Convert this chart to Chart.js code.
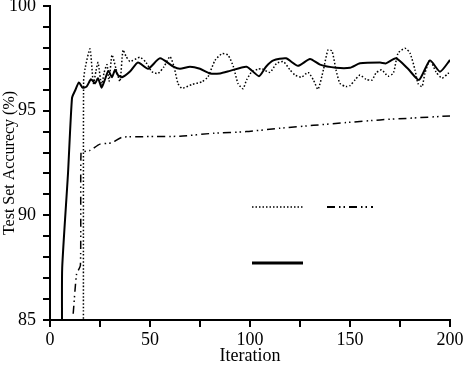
<!DOCTYPE html>
<html>
<head>
<meta charset="utf-8">
<script src="https://cdn.jsdelivr.net/npm/chart.js@4/dist/chart.umd.min.js"></script>
<style>
  body { margin: 0; background: #fff; }
  canvas { display: block; }
</style>
</head>
<body>
<canvas id="acc-chart" width="463" height="367"></canvas>
<script>
// solid line
var solidX = [6, 6.1, 9, 11, 12.5, 14.5, 16.3, 18.3, 20.5, 22.5, 24, 25.8, 27.5, 29.2, 31, 32.5, 34, 36, 40, 44, 49, 55, 61.7, 65, 70, 75, 80, 85, 90, 98.3, 104.5, 108, 111.7, 118, 124, 130, 135, 143, 150, 155, 165, 168, 173, 179, 184.5, 190, 195, 200];
var solidY = [84.9, 87.5, 92, 95.6, 95.95, 96.35, 96.1, 96.15, 96.5, 96.3, 96.55, 96.1, 96.5, 96.9, 96.6, 96.95, 96.7, 96.6, 96.87, 97.3, 97.0, 97.5, 97.1, 97.0, 97.1, 97.0, 96.78, 96.78, 96.9, 97.1, 96.65, 97.1, 97.4, 97.5, 97.14, 97.47, 97.2, 97.05, 97.05, 97.26, 97.3, 97.26, 97.5, 97.0, 96.47, 97.4, 96.86, 97.42];

// dotted line
var dotX = [16.7, 16.8, 17.5, 20, 21.7, 23, 24, 25.8, 27, 28.5, 29.5, 31, 33, 35, 36.5, 38, 40, 45, 48, 51, 54, 57, 60, 62, 64, 66, 71, 76, 79, 82.5, 86, 89, 91.7, 94, 96.5, 98.3, 101, 104, 106, 110, 113.3, 116.7, 120, 122.5, 125.8, 129, 131.7, 134, 136.7, 139, 141, 143, 145, 148, 150, 152.5, 155, 158, 161, 163, 165.8, 169, 171.7, 174, 177.5, 180, 182.5, 184, 186, 187.5, 190, 193, 196, 199, 200];
var dotY = [84.9, 96.4, 97.0, 97.95, 96.3, 96.9, 97.3, 96.2, 96.8, 97.2, 96.4, 97.66, 97.0, 96.4, 97.9, 97.6, 97.35, 97.55, 97.3, 96.86, 96.78, 97.1, 97.58, 97.1, 96.3, 96.07, 96.25, 96.38, 96.62, 97.4, 97.72, 97.66, 97.1, 96.3, 96.05, 96.47, 96.87, 96.98, 97.0, 96.83, 97.26, 97.34, 96.95, 96.7, 96.6, 96.83, 96.47, 96.02, 96.95, 97.9, 97.85, 96.95, 96.3, 96.15, 96.2, 96.47, 96.7, 96.5, 96.46, 96.8, 96.95, 96.65, 96.8, 97.74, 97.98, 97.75, 96.95, 96.3, 96.15, 96.8, 97.42, 96.85, 96.55, 96.78, 96.85];

// dash-dot line
var dashX = [11.6, 13.3, 15.2, 15.5, 17, 20, 25, 30.7, 36, 48, 65, 81.7, 98, 115, 131.7, 148, 165, 181.7, 200];
var dashY = [85.3, 87.2, 87.6, 93.0, 93.05, 93.1, 93.4, 93.46, 93.73, 93.76, 93.78, 93.92, 94.0, 94.16, 94.3, 94.43, 94.56, 94.65, 94.75];

var FONT = '"Liberation Serif", "Times New Roman", serif';

function pairs(xs, ys) {
    var out = [];
    for (var i = 0; i < xs.length; i++) {
        out.push({x: xs[i], y: ys[i]});
    }
    return out;
}

// outward tick marks, drawn from the scales' own tick positions
var tickMarks = {
    id: 'tickMarks',
    afterDraw: function(chart) {
        var ctx = chart.ctx;
        var xs = chart.scales.x, ys = chart.scales.y;
        var area = chart.chartArea;
        ctx.save();
        ctx.fillStyle = '#000';
        xs.ticks.forEach(function(t) {
            var px = Math.round(xs.getPixelForValue(t.value));
            ctx.fillRect(px - 1, area.bottom, 2, 7);
        });
        ys.ticks.forEach(function(t) {
            var py = Math.round(ys.getPixelForValue(t.value));
            ctx.fillRect(area.left - 7, py - 1, 7, 2);
        });
        ctx.restore();
    }
};

// legend samples sit inside the plot, no text
var legendSamples = {
    id: 'legendSamples',
    afterDraw: function(chart) {
        var ctx = chart.ctx;
        var spots = [
            [252, 303, 207],  // dotted
            [252, 303, 263],  // solid
            [327, 373, 207]   // dash-dot
        ];
        chart.data.datasets.forEach(function(ds, i) {
            var s = spots[i];
            ctx.save();
            ctx.strokeStyle = ds.borderColor;
            ctx.lineWidth = ds.legendWidth || ds.borderWidth;
            ctx.setLineDash(ds.borderDash || []);
            ctx.beginPath();
            ctx.moveTo(s[0], s[2]);
            ctx.lineTo(s[1], s[2]);
            ctx.stroke();
            ctx.restore();
        });
    }
};

new Chart(document.getElementById('acc-chart'), {
    type: 'line',
    data: {
        datasets: [
            {
                data: pairs(dotX, dotY),
                borderColor: '#000',
                borderWidth: 1.5,
                borderDash: [1.5, 2],
                pointRadius: 0,
                tension: 0.2
            },
            {
                data: pairs(solidX, solidY),
                borderColor: '#000',
                borderWidth: 2,
                legendWidth: 3,
                pointRadius: 0,
                tension: 0.2
            },
            {
                data: pairs(dashX, dashY),
                borderColor: '#000',
                borderWidth: 1.5,
                borderDash: [8, 4, 1.5, 3, 1.5, 4],
                legendWidth: 2,
                pointRadius: 0,
                tension: 0.2
            }
        ]
    },
    options: {
        responsive: false,
        animation: false,
        layout: { padding: 0 },
        plugins: {
            legend: { display: false },
            tooltip: { enabled: false }
        },
        scales: {
            x: {
                type: 'linear',
                min: 0,
                max: 200,
                border: { color: '#000', width: 2 },
                grid: { display: false, tickLength: 6 },
                ticks: {
                    stepSize: 25,
                    autoSkip: false,
                    maxRotation: 0,
                    color: '#000',
                    padding: 3,
                    font: { family: FONT, size: 18 },
                    callback: function(v) { return v % 50 === 0 ? v : ''; }
                },
                title: {
                    display: true,
                    text: 'Iteration',
                    color: '#000',
                    font: { family: FONT, size: 18 },
                    padding: 0
                },
                afterFit: function(scale) {
                    scale.height = 47;
                    scale.paddingLeft = 0;
                    scale.paddingRight = 13;
                }
            },
            y: {
                min: 85,
                max: 100,
                border: { color: '#000', width: 2 },
                grid: { display: false, tickLength: 6 },
                ticks: {
                    stepSize: 1,
                    autoSkip: false,
                    color: '#000',
                    padding: 8,
                    font: { family: FONT, size: 18 },
                    callback: function(v) { return v % 5 === 0 ? v : ''; }
                },
                title: {
                    display: true,
                    text: 'Test Set Accurecy (%)',
                    color: '#000',
                    font: { family: FONT, size: 16 },
                    padding: 0
                },
                afterFit: function(scale) {
                    scale.width = 50;
                    scale.paddingTop = 6;
                    scale.paddingBottom = 0;
                }
            }
        }
    },
    plugins: [tickMarks, legendSamples]
});
</script>
</body>
</html>
